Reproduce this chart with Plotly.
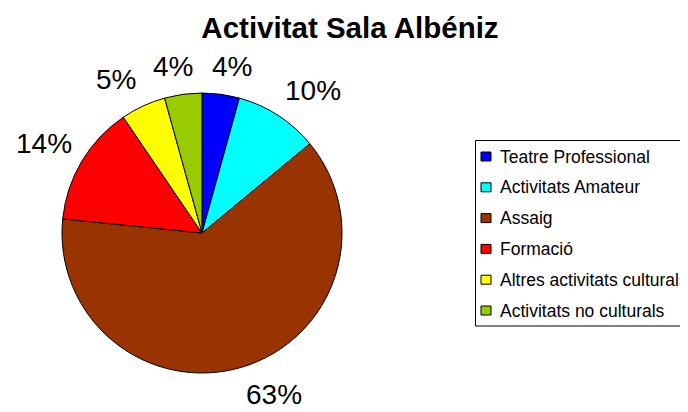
import math
import plotly.graph_objects as go

categories = ["Teatre Professional", "Activitats Amateur", "Assaig", "Formació",
              "Altres activitats culturals", "Activitats no culturals"]
values = [4.3, 9.7, 62.6, 13.9, 5.2, 4.3]
colors = ["#0000FF", "#00FFFF", "#993300", "#FF0000", "#FFFF00", "#99CC00"]
title_text = "Activitat Sala Albéniz"

OFF = 8                      # page body margin
W, H = 688 - OFF, 412 - OFF
CX, CY, R = 202, 233, 140    # pie centre / radius in window pixels
FONT = "Liberation Sans, Arial, sans-serif"
LABEL_SIZE = 28

def px(x):
    return (x - OFF) / W

def py(y):
    return 1 - (y - OFF) / H

fig = go.Figure()
fig.add_trace(go.Pie(
    labels=categories, values=values, sort=False, direction="clockwise", rotation=0,
    marker=dict(colors=colors, line=dict(color="black", width=1)),
    textinfo="none", hoverinfo="skip", showlegend=False,
    domain=dict(x=[px(CX - R), px(CX + R)], y=[py(CY + R), py(CY - R)]),
))

def text_w(t):
    return (0.556 * (len(t) - 1) + 0.889) * LABEL_SIZE + 3

# percentage labels: anchored just outside the rim at the slice mid-angle,
# with the label box pushed outward from the anchor (spreadsheet style)
total = sum(values)
cum = 0.0
labels = []
for v in values:
    mid = (cum + v / 2) / total * 2 * math.pi
    cum += v
    txt = f"{round(v / total * 100)}%"
    dx, dy = math.sin(mid), -math.cos(mid)
    ax = CX + (R + 10) * dx
    ay = CY + (R + 18) * dy
    w, h = text_w(txt), 20
    ox = math.copysign(w / 2 * min(1, abs(dx) / 0.3), dx)
    oy = math.copysign(h / 2 * min(1, abs(dy) / 0.6), dy)
    labels.append([ax + ox, ay + oy, txt])

# push apart labels that would collide horizontally
for _ in range(20):
    for i in range(len(labels)):
        for j in range(len(labels)):
            if i == j:
                continue
            a, b = labels[i], labels[j]
            if abs(a[1] - b[1]) < 24 and a[0] < b[0]:
                need = (text_w(a[2]) + text_w(b[2])) / 2 + 14
                gap = b[0] - a[0]
                if gap < need:
                    shift = (need - gap) / 2
                    a[0] -= shift
                    b[0] += shift

annotations = []
for lx, ly, txt in labels:
    annotations.append(dict(x=px(lx), y=py(ly), xref="paper", yref="paper",
                            text=txt, showarrow=False,
                            xanchor="center", yanchor="middle",
                            font=dict(family=FONT, size=LABEL_SIZE, color="black")))

# legend drawn from categories / colours
shapes = [dict(type="rect", xref="paper", yref="paper",
               x0=px(475.5), x1=px(700), y0=py(326), y1=py(140.5),
               line=dict(color="black", width=1), fillcolor="white")]
row0, step = 156.5, 30.8
for i, (cat, col) in enumerate(zip(categories, colors)):
    yc = row0 + i * step
    shapes.append(dict(type="rect", xref="paper", yref="paper",
                       x0=px(481), x1=px(491), y0=py(yc + 4.5), y1=py(yc - 4.5),
                       line=dict(color="black", width=1), fillcolor=col))
    annotations.append(dict(x=px(498), y=py(yc), xref="paper", yref="paper",
                            text=cat, showarrow=False, xanchor="left", yanchor="middle",
                            font=dict(family=FONT, size=17.5, color="black")))

fig.update_layout(
    width=W, height=H, margin=dict(l=0, r=0, t=0, b=0),
    paper_bgcolor="white", plot_bgcolor="white",
    title=dict(text=f"<b>{title_text}</b>", x=px(350), y=py(28),
               xref="paper", yref="paper",
               xanchor="center", yanchor="middle",
               font=dict(family=FONT, size=29.5, color="black")),
    shapes=shapes, annotations=annotations,
)

fig.write_html("out.html")
